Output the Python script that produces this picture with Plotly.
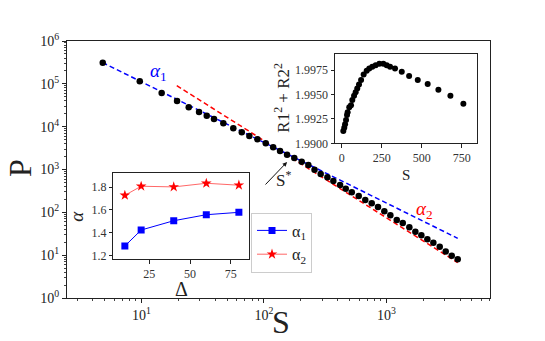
import plotly.graph_objects as go

# ---------------- data ----------------
S_main = [4.82, 9.67, 14.6, 19.5, 24.3, 29.5, 34.1, 39.1, 46.6, 56.2, 65.9, 76, 88.4,
          103.5, 119, 135.4, 154.5, 177, 203.5, 230.6, 259, 291, 330, 369, 419, 466,
          522, 595, 673, 760, 855, 963, 1079, 1217, 1362, 1542, 1727, 1933, 2164,
          2423, 2730, 3056, 3422, 3830]
P_main = [3.12e5, 1.15e5, 6.1e4, 3.98e4, 2.83e4, 2.2e4, 1.8e4, 1.51e4, 1.2e4, 9150,
          7390, 6050, 5070, 4090, 3300, 2700, 2220, 1860, 1520, 1270, 985, 785, 658,
          540, 435, 356, 294, 241, 194, 163, 133, 106, 85, 66, 56, 45, 35.3, 29.1,
          23.5, 19.6, 15.8, 12.1, 9.7, 8.0]

fit1_S = [4.8, 3830]
alpha1_fit = 1.414
logC1 = 6.460
fit2_S = [19.4, 3830]
alpha2_fit = 1.80
logC2 = 7.275

S_inset = [10, 16, 21, 27, 33, 37, 47, 58, 66, 77, 87, 97, 108, 121, 137, 156, 172,
           191, 212, 235, 260, 281, 302, 333, 375, 421, 475, 537, 604, 679, 760]
R_inset = [1.99126, 1.99160, 1.99195, 1.99239, 1.99290, 1.99318, 1.99369, 1.99392,
           1.99444, 1.99488, 1.99523, 1.99564, 1.99605, 1.99649, 1.99707, 1.99744,
           1.99768, 1.99785, 1.99802, 1.99816, 1.99816, 1.99802, 1.99785, 1.99768,
           1.99734, 1.99690, 1.99649, 1.99608, 1.99549, 1.99488, 1.99406]

Delta = [10, 20, 40, 60, 80]
alpha1 = [1.282, 1.423, 1.505, 1.558, 1.579]
alpha2 = [1.729, 1.809, 1.803, 1.835, 1.818]

main_x_ticks = [10, 100, 1000]
main_x_ticktext = ["10<sup>1</sup>", "10<sup>2</sup>", "10<sup>3</sup>"]
main_y_ticks = [1, 10, 100, 1e3, 1e4, 1e5, 1e6]
main_y_ticktext = ["10<sup>%d</sup>" % i for i in range(7)]
inset1_x_ticks = [0, 250, 500, 750]
inset1_y_ticks = [1.99, 1.9925, 1.995, 1.9975]
inset2_x_ticks = [25, 50, 75]
inset2_y_ticks = [1.2, 1.4, 1.6, 1.8]

# ---------------- figure ----------------
FONT = "Liberation Serif"
W, H = 545, 341
L, R, T, B = 67, 55, 41, 43
PW, PH = W - L - R, H - T - B


def pxx(x):
    return (x - L) / PW


def pxy(y):
    return (H - B - y) / PH


def minor_log(lo, hi):
    vals = []
    for d in range(lo, hi):
        for k in range(2, 10):
            vals.append(k * 10 ** d)
    return vals


fig = go.Figure()

fig.add_trace(go.Scatter(
    x=fit1_S, y=[10 ** logC1 * s ** (-alpha1_fit) for s in fit1_S],
    mode="lines", line=dict(color="#0000ff", width=1.5, dash="5px,3px"),
    showlegend=False, xaxis="x", yaxis="y"))
fig.add_trace(go.Scatter(
    x=fit2_S, y=[10 ** logC2 * s ** (-alpha2_fit) for s in fit2_S],
    mode="lines", line=dict(color="#ff0000", width=1.5, dash="5px,3px"),
    showlegend=False, xaxis="x", yaxis="y"))
fig.add_trace(go.Scatter(
    x=S_main, y=P_main, mode="markers",
    marker=dict(color="black", size=6.5), showlegend=False, xaxis="x", yaxis="y"))

fig.add_trace(go.Scatter(
    x=S_inset, y=R_inset, mode="markers",
    marker=dict(color="black", size=6), showlegend=False, xaxis="x2", yaxis="y2"))

fig.add_trace(go.Scatter(
    x=Delta, y=alpha1, mode="lines+markers", name="α<sub>1</sub>",
    line=dict(color="#0000ff", width=1),
    marker=dict(symbol="square", size=7, color="#0000ff"),
    xaxis="x3", yaxis="y3"))
fig.add_trace(go.Scatter(
    x=Delta, y=alpha2, mode="lines+markers", name="α<sub>2</sub>",
    line=dict(color="#ff4040", width=0.8),
    marker=dict(symbol="star", size=8, color="#ff0000"),
    xaxis="x3", yaxis="y3"))

axcommon = dict(showline=True, mirror=True, linecolor="#222", linewidth=1,
                ticks="outside", tickcolor="#222", showgrid=False, zeroline=False,
                tickfont=dict(family=FONT, size=14, color="#222"))

inset_common = dict(showline=True, mirror=True, linecolor="#222", linewidth=1,
                    ticks="outside", ticklen=3.5, tickcolor="#222", showgrid=False,
                    zeroline=False, tickfont=dict(family=FONT, size=12, color="#333"))

fig.update_layout(
    width=W, height=H,
    margin=dict(l=L, r=R, t=T, b=B),
    paper_bgcolor="white", plot_bgcolor="white",
    font=dict(family=FONT, color="#222"),
    xaxis=dict(type="log", range=[0.391, 3.847], domain=[0, 1],
               tickmode="array", tickvals=main_x_ticks, ticktext=main_x_ticktext,
               ticklen=4,
               minor=dict(tickmode="array", tickvals=minor_log(0, 4), ticks="outside",
                          ticklen=2, tickcolor="#444", showgrid=False),
               **axcommon),
    yaxis=dict(type="log", range=[0, 6], domain=[0, 1],
               tickmode="array", tickvals=main_y_ticks, ticktext=main_y_ticktext,
               ticklen=4,
               minor=dict(tickmode="array", tickvals=minor_log(0, 6), ticks="outside",
                          ticklen=2, tickcolor="#444", showgrid=False),
               **axcommon),
    xaxis2=dict(domain=[pxx(335), pxx(476.5)], anchor="y2", range=[-42, 842],
                tickmode="array", tickvals=inset1_x_ticks, **inset_common),
    yaxis2=dict(domain=[pxy(143.3), pxy(54.3)], anchor="x2", range=[1.99, 1.99914],
                tickmode="array", tickvals=inset1_y_ticks, tickformat=".4f",
                **inset_common),
    xaxis3=dict(domain=[pxx(113.3), pxx(249.3)], anchor="y3", range=[2.9, 86.4],
                tickmode="array", tickvals=inset2_x_ticks, **inset_common),
    yaxis3=dict(domain=[pxy(259.3), pxy(173.3)], anchor="x3", range=[1.165, 1.923],
                tickmode="array", tickvals=inset2_y_ticks, tickformat=".1f",
                **inset_common),
    legend=dict(x=pxx(251), y=pxy(212.5), xanchor="left", yanchor="top",
                bgcolor="white", bordercolor="#cccccc", borderwidth=1,
                font=dict(family=FONT, size=16, color="#222"),
                itemwidth=30, tracegroupgap=2),
)


def lab(text, x, y, size, angle=0, color="#222", xref="paper", yref="paper"):
    return dict(text=text, x=x, y=y, xref=xref, yref=yref, showarrow=False,
                xanchor="center", yanchor="middle", textangle=angle,
                font=dict(family=FONT, size=size, color=color))


ann = [
    lab("P", pxx(20), pxy(168), 32, -90),
    lab("S", pxx(281), pxy(322), 32),
    lab("<i>α</i>", pxx(77), pxy(216.7), 19, -90),
    lab("Δ", pxx(181.7), pxy(289), 20),
    lab("R1<sup>2</sup> + R2<sup>2</sup>", pxx(281.7), pxy(98), 17, -90),
    lab("S", pxx(405.7), pxy(175), 15),
    lab("<i>α</i><sub>1</sub>", 1.135, 5.277, 19, 0, "#0000ff", "x", "y"),
    lab("<i>α</i><sub>2</sub>", 3.308, 2.055, 19, 0, "#ff0000", "x", "y"),
    lab("S<sup>*</sup>", 2.156, 2.778, 17, 0, "#222", "x", "y"),
    dict(text="", x=2.189, y=3.175, xref="x", yref="y", showarrow=True,
         ax=-23, ay=24, arrowhead=2, arrowsize=0.9, arrowwidth=1, arrowcolor="#111"),
]
fig.update_layout(annotations=ann)

fig.write_html("out.html", config={"displayModeBar": False},
               post_script="document.body.style.margin='0px';")
